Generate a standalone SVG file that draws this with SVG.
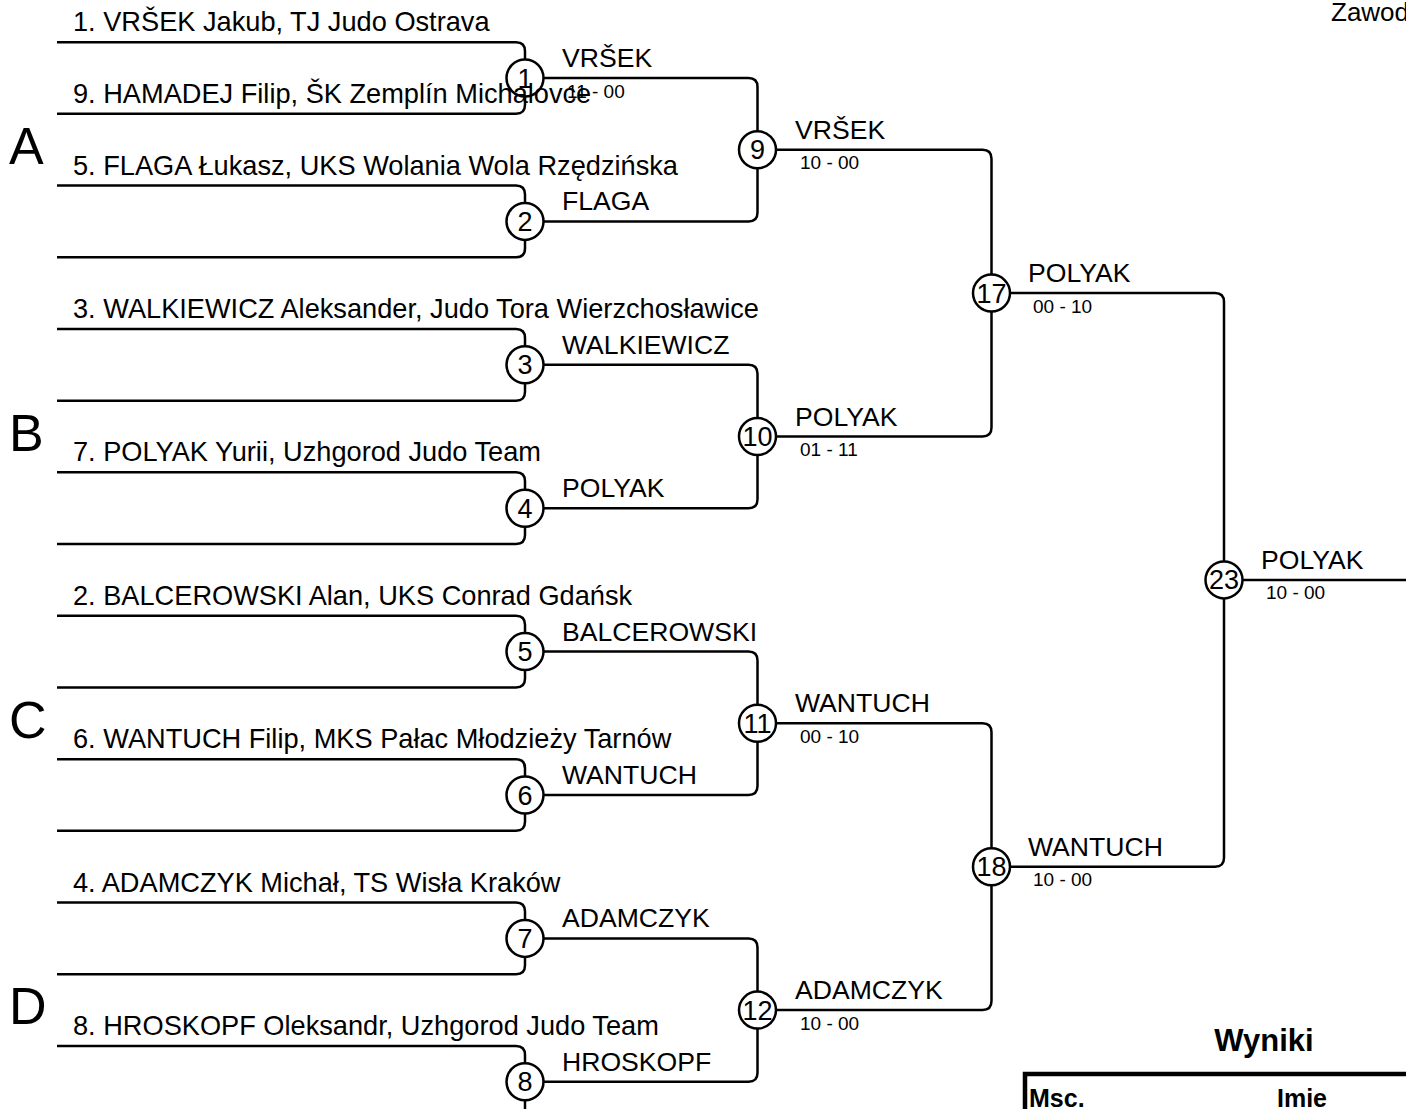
<svg xmlns="http://www.w3.org/2000/svg" width="1406" height="1109" viewBox="0 0 1406 1109">
<style>
.ln{fill:none;stroke:#000;stroke-width:2.5}
.c{fill:#fff;stroke:#000;stroke-width:2.5}
text{font-family:"Liberation Sans",Arial,sans-serif;fill:#000}
.nm{font-size:27.2px}
.wl{font-size:26.6px}
.sc{font-size:19px}
.cn{font-size:27px;text-anchor:middle}
.pool{font-size:52px}
.b{font-weight:bold}
</style>
<rect width="1406" height="1109" fill="#fff"/>
<g id="connectors">
<path class="ln" d="M57,42.15 H516 Q525,42.15 525,51.15 V104.85 Q525,113.85 516,113.85 H57"/>
<path class="ln" d="M57,185.55 H516 Q525,185.55 525,194.55 V248.25 Q525,257.25 516,257.25 H57"/>
<path class="ln" d="M57,328.95 H516 Q525,328.95 525,337.95 V391.65 Q525,400.65 516,400.65 H57"/>
<path class="ln" d="M57,472.35 H516 Q525,472.35 525,481.35 V535.05 Q525,544.05 516,544.05 H57"/>
<path class="ln" d="M57,615.75 H516 Q525,615.75 525,624.75 V678.45 Q525,687.45 516,687.45 H57"/>
<path class="ln" d="M57,759.15 H516 Q525,759.15 525,768.15 V821.85 Q525,830.85 516,830.85 H57"/>
<path class="ln" d="M57,902.55 H516 Q525,902.55 525,911.55 V965.25 Q525,974.25 516,974.25 H57"/>
<path class="ln" d="M57,1045.95 H516 Q525,1045.95 525,1054.95 V1108.65 Q525,1117.65 516,1117.65 H57"/>
<path class="ln" d="M525,78 H748.5 Q757.5,78 757.5,87 V212.4 Q757.5,221.4 748.5,221.4 H525"/>
<path class="ln" d="M525,364.8 H748.5 Q757.5,364.8 757.5,373.8 V499.2 Q757.5,508.2 748.5,508.2 H525"/>
<path class="ln" d="M525,651.6 H748.5 Q757.5,651.6 757.5,660.6 V786 Q757.5,795 748.5,795 H525"/>
<path class="ln" d="M525,938.4 H748.5 Q757.5,938.4 757.5,947.4 V1072.8 Q757.5,1081.8 748.5,1081.8 H525"/>
<path class="ln" d="M757.5,149.7 H982.5 Q991.5,149.7 991.5,158.7 V427.5 Q991.5,436.5 982.5,436.5 H757.5"/>
<path class="ln" d="M757.5,723.3 H982.5 Q991.5,723.3 991.5,732.3 V1001.1 Q991.5,1010.1 982.5,1010.1 H757.5"/>
<path class="ln" d="M991.5,293.1 H1215 Q1224,293.1 1224,302.1 V857.7 Q1224,866.7 1215,866.7 H991.5"/>
<path class="ln" d="M1224,579.9 H1406"/>
</g>
<g id="m1"><circle class="c" cx="525" cy="78" r="18.5"/><text class="cn" x="525" y="87.5">1</text></g>
<g id="m2"><circle class="c" cx="525" cy="221.4" r="18.5"/><text class="cn" x="525" y="230.9">2</text></g>
<g id="m3"><circle class="c" cx="525" cy="364.8" r="18.5"/><text class="cn" x="525" y="374.3">3</text></g>
<g id="m4"><circle class="c" cx="525" cy="508.2" r="18.5"/><text class="cn" x="525" y="517.7">4</text></g>
<g id="m5"><circle class="c" cx="525" cy="651.6" r="18.5"/><text class="cn" x="525" y="661.1">5</text></g>
<g id="m6"><circle class="c" cx="525" cy="795" r="18.5"/><text class="cn" x="525" y="804.5">6</text></g>
<g id="m7"><circle class="c" cx="525" cy="938.4" r="18.5"/><text class="cn" x="525" y="947.9">7</text></g>
<g id="m8"><circle class="c" cx="525" cy="1081.8" r="18.5"/><text class="cn" x="525" y="1091.3">8</text></g>
<g id="m9"><circle class="c" cx="757.5" cy="149.7" r="18.5"/><text class="cn" x="757.5" y="159.2">9</text></g>
<g id="m10"><circle class="c" cx="757.5" cy="436.5" r="18.5"/><text class="cn" x="757.5" y="446">10</text></g>
<g id="m11"><circle class="c" cx="757.5" cy="723.3" r="18.5"/><text class="cn" x="757.5" y="732.8">11</text></g>
<g id="m12"><circle class="c" cx="757.5" cy="1010.1" r="18.5"/><text class="cn" x="757.5" y="1019.6">12</text></g>
<g id="m17"><circle class="c" cx="991.5" cy="293.1" r="18.5"/><text class="cn" x="991.5" y="302.6">17</text></g>
<g id="m18"><circle class="c" cx="991.5" cy="866.7" r="18.5"/><text class="cn" x="991.5" y="876.2">18</text></g>
<g id="m23"><circle class="c" cx="1224" cy="579.9" r="18.5"/><text class="cn" x="1224" y="589.4">23</text></g>
<g id="players">
<text class="nm" x="73" y="31">1. VRŠEK Jakub, TJ Judo Ostrava</text>
<text class="nm" x="73" y="102.8">9. HAMADEJ Filip, ŠK Zemplín Michalovce</text>
<text class="nm" x="73" y="174.5">5. FLAGA Łukasz, UKS Wolania Wola Rzędzińska</text>
<text class="nm" x="73" y="318">3. WALKIEWICZ Aleksander, Judo Tora Wierzchosławice</text>
<text class="nm" x="73" y="461.3">7. POLYAK Yurii, Uzhgorod Judo Team</text>
<text class="nm" x="73" y="604.7">2. BALCEROWSKI Alan, UKS Conrad Gdańsk</text>
<text class="nm" x="73" y="748.1">6. WANTUCH Filip, MKS Pałac Młodzieży Tarnów</text>
<text class="nm" x="73" y="891.5">4. ADAMCZYK Michał, TS Wisła Kraków</text>
<text class="nm" x="73" y="1034.9">8. HROSKOPF Oleksandr, Uzhgorod Judo Team</text>
</g>
<g id="pools">
<text class="pool" x="9" y="164">A</text>
<text class="pool" x="9" y="451">B</text>
<text class="pool" x="9" y="738">C</text>
<text class="pool" x="9" y="1024">D</text>
</g>
<g id="results">
<text class="wl" x="562" y="67">VRŠEK</text>
<text class="sc" x="567" y="97.5">11 - 00</text>
<text class="wl" x="562" y="210.4">FLAGA</text>
<text class="wl" x="562" y="353.8">WALKIEWICZ</text>
<text class="wl" x="562" y="497.2">POLYAK</text>
<text class="wl" x="562" y="640.6">BALCEROWSKI</text>
<text class="wl" x="562" y="784">WANTUCH</text>
<text class="wl" x="562" y="927.4">ADAMCZYK</text>
<text class="wl" x="562" y="1070.8">HROSKOPF</text>
<text class="wl" x="795" y="138.7">VRŠEK</text>
<text class="sc" x="800" y="169.2">10 - 00</text>
<text class="wl" x="795" y="425.5">POLYAK</text>
<text class="sc" x="800" y="456">01 - 11</text>
<text class="wl" x="795" y="712.3">WANTUCH</text>
<text class="sc" x="800" y="742.8">00 - 10</text>
<text class="wl" x="795" y="999.1">ADAMCZYK</text>
<text class="sc" x="800" y="1029.6">10 - 00</text>
<text class="wl" x="1028" y="282.1">POLYAK</text>
<text class="sc" x="1033" y="312.6">00 - 10</text>
<text class="wl" x="1028" y="855.7">WANTUCH</text>
<text class="sc" x="1033" y="886.2">10 - 00</text>
<text class="wl" x="1261" y="568.9">POLYAK</text>
<text class="sc" x="1266" y="599.4">10 - 00</text>
</g>
<g id="header">
<text x="1331" y="21" font-size="26">Zawod</text>
</g>
<g id="table">
<text class="b" x="1264" y="1051" font-size="31" text-anchor="middle">Wyniki</text>
<rect x="1025" y="1074" width="500" height="100" fill="none" stroke="#000" stroke-width="4.5"/>
<text class="b" x="1029" y="1107" font-size="25">Msc.</text>
<text class="b" x="1277" y="1107" font-size="25">Imie</text>
</g>
</svg>
